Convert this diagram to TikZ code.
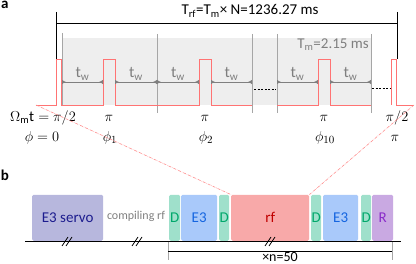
\documentclass[tikz,border=0pt]{standalone}
\usepackage{fontspec}
\setmainfont{Carlito}
\usepackage{xcolor}
\usepackage{tikz}
\usetikzlibrary{arrows.meta,calc,positioning}
\definecolor{PulseRed}{HTML}{FF7373}
\definecolor{ShadeGray}{HTML}{EEEEEE}
\definecolor{LineGray}{HTML}{A6A6A6}
\definecolor{TextGray}{HTML}{7F7F7F}
\definecolor{ServoFill}{HTML}{B7B7DD}
\definecolor{ServoInk}{HTML}{1C1C8E}
\definecolor{DFill}{HTML}{9FE0CB}
\definecolor{DInk}{HTML}{00A86B}
\definecolor{EFill}{HTML}{A9C9FA}
\definecolor{EInk}{HTML}{1565E0}
\definecolor{RfFill}{HTML}{F8A9A9}
\definecolor{RfInk}{HTML}{C00000}
\definecolor{RFill}{HTML}{C9A9E2}
\definecolor{RInk}{HTML}{8A2BC9}

\begin{document}
\begin{tikzpicture}[x=1pt,y=-1pt,
  lbl/.style={font=\fontsize{15}{18}\selectfont,inner sep=0pt},
  panel/.style={font=\fontsize{15}{18}\selectfont\bfseries,inner sep=0pt},
  pulse/.style={draw=PulseRed,line width=0.9pt},
  tw/.style={{Latex[reversed,length=4pt,width=4.5pt]}-{Latex[reversed,length=4pt,width=4.5pt]},draw=TextGray,line width=0.8pt},
  twlabel/.style={font=\fontsize{16}{18}\selectfont,text=TextGray,inner sep=0pt},
  seg/.style={draw=LineGray,line width=0.8pt},
  gap/.style={draw=black,line width=0.9pt,dash pattern=on 2pt off 1.5pt},
  block/.style={anchor=south west,minimum height=46pt,inner sep=0pt,rounded corners=1.5pt,font=\fontsize{15}{18}\selectfont},
  zoomline/.style={draw=PulseRed!80,densely dashdotted,line width=0.6pt}
]
\useasboundingbox (0,0) rectangle (416,264);

% panel a
\node[panel,anchor=north west] (pa) at (1,1) {a};
\fill[ShadeGray] (62,38) rectangle (371,105);
\draw[seg] (62,33) -- (62,105);
\foreach \x in {157,252,277,371} \draw[seg] (\x,34) -- (\x,113);

\draw[line width=0.8pt] (56,12) -- (56,59) (397,12) -- (397,59);
\coordinate (trl) at (56,23);
\coordinate (trr) at (397,23);
\draw[line width=0.8pt] (trl) -- (trr);
\node[lbl] (trf) at (250,11) {T\textsubscript{rf}=T\textsubscript{m}× N=1236.27 ms};
\node[twlabel,font=\fontsize{15}{18}\selectfont,anchor=east] (tm) at (369,45) {T\textsubscript{m}=2.15 ms};

\draw[pulse] (36,105) -- (56,105) -- (56,59) -- (61,59) -- (61,105) -- (103,105) -- (103,59)
  -- (115,59) -- (115,105) -- (199,105) -- (199,59) -- (211,59) -- (211,105) -- (252,105);
\draw[pulse] (277,105) -- (318,105) -- (318,59) -- (330,59) -- (330,105) -- (371,105);
\draw[pulse] (391,105) -- (391,59) -- (396,59) -- (396,105) -- (414,105);
\draw[gap] (254,89) -- (276,89);
\draw[gap] (372,88) -- (390,88);

\foreach \a/\b in {62/103,115/157,157/199,211/252,277/318,330/371}
  \draw[tw] (\a,82) -- node[twlabel,above=1.5pt] (tw\a) {t\textsubscript{w}} (\b,82);

\node[lbl] (rot0) at (43,118) {$\Omega_{\mathrm{m}}\mathrm{t}=\pi/2$};
\node[lbl] (ph0) at (42,138) {$\phi=0$};
\node[lbl] (rot1) at (109,118) {$\pi$};
\node[lbl] (ph1) at (110,138) {$\phi_1$};
\node[lbl] (rot2) at (205,118) {$\pi$};
\node[lbl] (ph2) at (206,138) {$\phi_2$};
\node[lbl] (rot3) at (324,118) {$\pi$};
\node[lbl] (ph3) at (325,138) {$\phi_{10}$};
\node[lbl] (rot4) at (397,118) {$\pi/2$};
\node[lbl] (ph4) at (395,138) {$\pi$};

% panel b
\node[panel] (pb) at (5,175) {b};
\node[block,fill=ServoFill,text=ServoInk,minimum width=71pt] (servo) at (32,241) {E3 servo};
\node[font=\fontsize{12}{14}\selectfont,text=TextGray,inner sep=0pt] (comp) at (136,216) {compiling rf};
\node[block,fill=DFill,text=DInk,minimum width=11pt] (d1) at (169,241) {D};
\node[block,fill=EFill,text=EInk,minimum width=36pt] (e1) at (181,241) {E3};
\node[block,fill=DFill,text=DInk,minimum width=10pt] (d2) at (219,241) {D};
\node[block,fill=RfFill,text=RfInk,minimum width=78pt] (rf) at (231,241) {rf};
\node[block,fill=DFill,text=DInk,minimum width=10pt] (d3) at (311,241) {D};
\node[block,fill=EFill,text=EInk,minimum width=35pt] (e2) at (323,241) {E3};
\node[block,fill=DFill,text=DInk,minimum width=10pt] (d4) at (361,241) {D};
\node[block,fill=RFill,text=RInk,minimum width=21pt] (rr) at (372,241) {R};

\coordinate (tl0) at (25,241);
\coordinate (tl1) at (401,241);
\draw[line width=0.8pt] (tl0) -- (tl1);
\foreach \x in {67,137,270} {
  \draw[line width=0.7pt] (\x-5,246) -- (\x+1,237);
  \draw[line width=0.7pt] (\x-1,246) -- (\x+5,237);
}

\draw[seg] (168,242) -- (168,260);
\draw[seg] (392,242) -- (392,260);
\coordinate (nl) at (168,251.5);
\coordinate (nr) at (392,251.5);
\draw[line width=0.8pt] (nl) -- node[lbl,font=\fontsize{14}{16}\selectfont,below=0.5pt] (reps) {×n=50} (nr);

% zoom from pulse train to rf block
\coordinate (zl) at (36,105);
\coordinate (zr) at (414,105);
\draw[zoomline] (zl) -- (rf.north west);
\draw[zoomline] (zr) -- (rf.north east);
\end{tikzpicture}
\end{document}
